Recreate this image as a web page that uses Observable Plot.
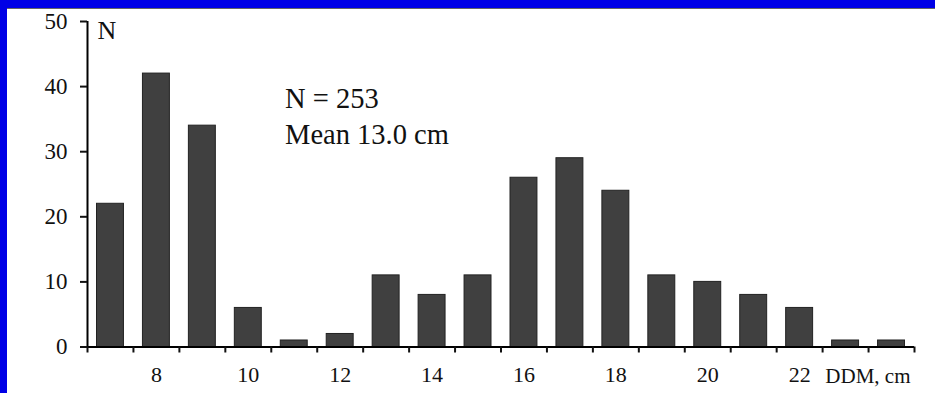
<!DOCTYPE html>
<html>
<head>
<meta charset="utf-8">
<script src="https://cdn.jsdelivr.net/npm/d3@7"></script>
<script src="https://cdn.jsdelivr.net/npm/@observablehq/plot@0.6"></script>
<style>
  html, body { margin: 0; padding: 0; background: #fff; }
  #frame { width: 928px; height: 385px; border-top: 8px solid #0000e6; border-left: 7px solid #0000e6; }
  #frame svg { display: block; border-top: 1px solid #666; background: #fff; }
</style>
</head>
<body>
<div id="frame"></div>
<script>
// Diameter classes (cm) and counts
const ddmClasses = [7, 8, 9, 10, 11, 12, 13, 14, 15, 16, 17, 18, 19, 20, 21, 22, 23, 24];
const counts     = [22, 42, 34, 6, 1, 2, 11, 8, 11, 26, 29, 24, 11, 10, 8, 6, 1, 1];
const xTickLabels = [8, 10, 12, 14, 16, 18, 20, 22];
const yTicks = [0, 10, 20, 30, 40, 50];
const xAxisLabel = "DDM, cm";
const yAxisLabel = "N";
const annotation = "N = 253\nMean 13.0 cm";

const data = ddmClasses.map((d, i) => ({ddm: d, n: counts[i]}));
const xMin = ddmClasses[0] - 0.5;
const xMax = ddmClasses[ddmClasses.length - 1] + 0.5;
const boundaries = d3.range(xMin, xMax + 0.01, 1);

const chart = Plot.plot({
  width: 928,
  height: 385,
  marginLeft: 80,
  marginRight: 21,
  marginTop: 12,
  marginBottom: 47.5,
  style: {fontFamily: "'Liberation Serif', 'Times New Roman', serif", fontSize: "22px", color: "#111", background: "#fff"},
  x: {type: "linear", domain: [xMin, xMax]},
  y: {domain: [0, 50]},
  marks: [
    Plot.rectY(data, {x1: d => d.ddm - 0.5, x2: d => d.ddm + 0.5, y: "n", insetLeft: 9.5, insetRight: 9.5, fill: "#404040", stroke: "#222", strokeWidth: 1}),
    Plot.ruleX([xMin], {y1: 0, y2: 50, stroke: "#000", strokeWidth: 2}),
    Plot.ruleY([0], {x1: xMin, x2: xMax, stroke: "#000", strokeWidth: 2}),
    Plot.axisY({ticks: yTicks, tickSize: 7, tickPadding: 13, strokeWidth: 2, fontSize: 23, label: null}),
    Plot.axisX({ticks: boundaries, tickFormat: () => "", tickSize: 6, strokeWidth: 2, label: null}),
    Plot.axisX({ticks: xTickLabels, tickSize: 0, tickPadding: 19, fontSize: 22, label: null}),
    Plot.text([xAxisLabel], {x: xMax, y: 0, textAnchor: "end", dx: -4, dy: 29, fontSize: 21, lineAnchor: "middle"}),
    Plot.text([yAxisLabel], {x: xMin, y: 50, textAnchor: "start", dx: 10, dy: 9, fontSize: 26, lineAnchor: "middle"}),
    Plot.text([annotation], {x: 10.8, y: 40.6, textAnchor: "start", lineAnchor: "top", fontSize: 28.5, lineHeight: 1.25})
  ]
});
document.getElementById("frame").appendChild(chart);
</script>
</body>
</html>
